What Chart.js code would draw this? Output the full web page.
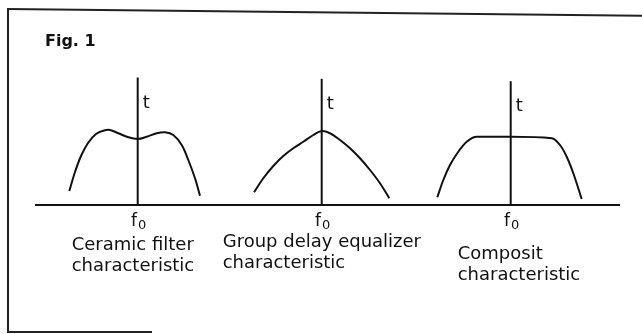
<!DOCTYPE html>
<html>
<head>
<meta charset="utf-8">
<script src="https://cdn.jsdelivr.net/npm/chart.js@4/dist/chart.umd.min.js"></script>
<style>
  html, body { margin: 0; padding: 0; background: #fff; }
  #wrap { position: relative; width: 642px; height: 334px; overflow: hidden; }
  #frame-top { position: absolute; left: 7px; top: 8px; width: 640px; height: 0; border-top: 2px solid #222; transform: rotate(0.62deg); transform-origin: 0 0; }
  #frame-left { position: absolute; left: 7px; top: 8px; width: 0; height: 325px; border-left: 2px solid #222; }
  #frame-bottom { position: absolute; left: 7px; top: 331px; width: 145px; height: 0; border-top: 2px solid #222; }
  #fig { position: absolute; left: 45px; top: 31px; font: bold 16px "DejaVu Sans", sans-serif; color: #111; }
</style>
</head>
<body>
<div id="wrap">
  <canvas id="chart" width="642" height="334"></canvas>
  <div id="frame-top"></div>
  <div id="frame-left"></div>
  <div id="frame-bottom"></div>
  <div id="fig">Fig. 1</div>
</div>
<script>
// panel data (x = frequency units, t = group delay units, baseline at t = 0)
const centers = [10.27, 28.67, 47.57];      // f0 of each panel
const axisTops = [10.2, 10.1, 9.9];         // height of each t axis
const baselineX = [0, 58.5];

// Ceramic filter characteristic (offset from f0, t)
const ceramicDf = [-6.84, -6.27, -5.67, -4.97, -4.17, -3.37, -2.77, -1.94, -0.94, 0, 0.90, 1.90, 2.73, 3.56, 4.40, 5.06, 5.73, 6.23];
const ceramicT  = [1.12, 2.64, 3.92, 4.96, 5.68, 5.96, 6.00, 5.74, 5.42, 5.28, 5.46, 5.74, 5.82, 5.60, 4.80, 3.60, 2.14, 0.74];

// Group delay equalizer characteristic
const equalizerDf = [-6.77, -5.84, -4.84, -3.84, -2.84, -1.84, -0.84, 0, 0.83, 1.83, 2.83, 3.83, 4.83, 5.83, 6.76];
const equalizerT  = [1.02, 2.14, 3.12, 3.92, 4.54, 5.06, 5.60, 5.92, 5.74, 5.20, 4.54, 3.74, 2.80, 1.74, 0.54];

// Composit characteristic
const compositDf = [-7.34, -6.74, -6.07, -5.24, -4.40, -3.40, 0, 4.10, 4.93, 5.60, 6.26, 7.10];
const compositT  = [0.62, 2.00, 3.20, 4.26, 5.06, 5.46, 5.46, 5.34, 4.80, 3.86, 2.54, 0.48];

const captions = [
    ['Ceramic filter', 'characteristic'],
    ['Group delay equalizer', 'characteristic'],
    ['Composit', 'characteristic']
];
const axisLabel = 't';
const freqLabel = ['f', '0'];

// layout of the labels (pixel offsets from axis / baseline)
const captionDx = [-66, -99, -53];
const captionDy = [45, 42, 54];
const captionGap = 21;

const ink = '#111';

// build datasets:
function curve(center, df, t) {
    return df.map((d, i) => ({ x: center + d, y: t[i] }));
}

const lineStyle = {
    borderColor: ink,
    borderWidth: 2,
    pointRadius: 0,
    fill: false,
    clip: false
};

const datasets = [];
datasets.push({ ...lineStyle, data: baselineX.map(x => ({ x: x, y: 0 })) });
centers.forEach((c, i) => {
    datasets.push({ ...lineStyle, data: [{ x: c, y: 0 }, { x: c, y: axisTops[i] }] });
});
datasets.push({ ...lineStyle, tension: 0.35, data: curve(centers[0], ceramicDf, ceramicT) });
datasets.push({ ...lineStyle, tension: 0.35, data: curve(centers[1], equalizerDf, equalizerT) });
datasets.push({ ...lineStyle, cubicInterpolationMode: 'monotone', data: curve(centers[2], compositDf, compositT) });

// text labels drawn at scale positions:
const labelPlugin = {
    id: 'labels',
    afterDatasetsDraw(chart) {
        const ctx = chart.ctx;
        const xs = chart.scales.x;
        const ys = chart.scales.y;
        const base = ys.getPixelForValue(0);
        ctx.save();
        ctx.fillStyle = ink;
        ctx.textBaseline = 'alphabetic';
        centers.forEach((c, i) => {
            const px = xs.getPixelForValue(c);
            const top = ys.getPixelForValue(axisTops[i]);

            // t
            ctx.font = '18px "DejaVu Sans", sans-serif';
            ctx.textAlign = 'left';
            ctx.fillText(axisLabel, px + 5, top + 30);

            // f0
            ctx.font = '17px "DejaVu Sans", sans-serif';
            const fw = ctx.measureText(freqLabel[0]).width;
            ctx.font = '13px "DejaVu Sans", sans-serif';
            const zw = ctx.measureText(freqLabel[1]).width;
            const fx = px - (fw + zw + 1) / 2 + 1;
            ctx.font = '17px "DejaVu Sans", sans-serif';
            ctx.fillText(freqLabel[0], fx, base + 21);
            ctx.font = '13px "DejaVu Sans", sans-serif';
            ctx.fillText(freqLabel[1], fx + fw + 1, base + 24);

            // captions
            ctx.font = '18px "DejaVu Sans", sans-serif';
            captions[i].forEach((line, k) => {
                ctx.fillText(line, px + captionDx[i], base + captionDy[i] + k * captionGap);
            });
        });
        ctx.restore();
    }
};

new Chart(document.getElementById('chart'), {
    type: 'line',
    data: { datasets: datasets },
    options: {
        responsive: false,
        animation: false,
        layout: { padding: { left: 35, right: 7, top: 80, bottom: 129 } },
        scales: {
            x: { type: 'linear', min: 0, max: 60, display: false },
            y: { min: 0, max: 10, display: false }
        },
        plugins: {
            legend: { display: false },
            tooltip: { enabled: false }
        }
    },
    plugins: [labelPlugin]
});
</script>
</body>
</html>
